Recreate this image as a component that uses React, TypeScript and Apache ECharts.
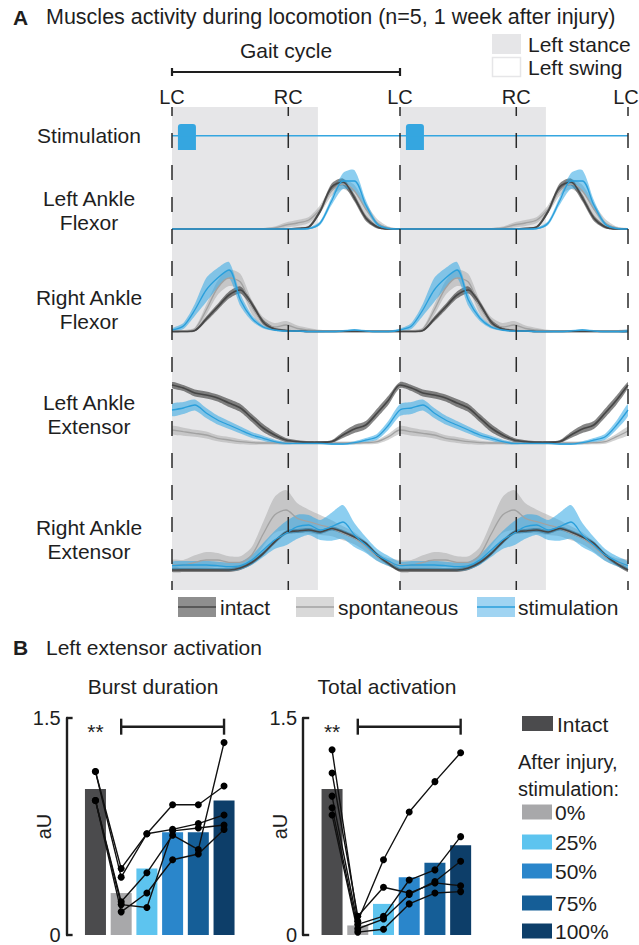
import React, { useEffect, useRef } from "react";
import * as echarts from "echarts";

const FONT = "'Liberation Sans', Arial, Helvetica, sans-serif";
const INK = "#1e1e1e";

// ---------- Panel A data (one gait cycle, % of cycle, every 5%) ----------
const PHASE = [0, 5, 10, 15, 20, 25, 30, 35, 40, 45, 50, 55, 60, 65, 70, 75, 80, 85, 90, 95, 100];

const EVENT_POS = [0, 51, 100, 151, 200];
const EVENT_LABELS = ["LC", "RC", "LC", "RC", "LC"];
const STANCE = [[0, 64], [100, 164]];
const GAIT_CYCLE = [[0, 100]];
const STIM_BURSTS = [[2.6, 10.5], [102.6, 110.5]];
const STIM_LEVEL = 0.55;

// Left Ankle Flexor
const LAF_INTACT = [2, 2, 2, 2, 2, 2, 2, 2, 2, 2, 2, 2.5, 4, 20, 44, 49, 33, 13, 4, 2, 2];
const LAF_INTACT_SD = [0.7, 0.7, 0.7, 0.7, 0.7, 0.7, 0.7, 0.7, 0.7, 0.7, 0.7, 0.9, 1.3, 2.5, 3.5, 3.5, 3.5, 3, 1.5, 0.8, 0.7];
const LAF_SPONT = [2, 2, 2, 2, 2, 2, 2, 2, 2.2, 3, 6, 8, 11, 22, 40, 47, 40, 22, 8, 3, 2];
const LAF_SPONT_SD = [0.7, 0.7, 0.7, 0.7, 0.7, 0.7, 0.7, 0.7, 0.9, 1.5, 2.5, 3, 3, 4, 5, 5, 6, 6, 4, 1.5, 0.7];
const LAF_STIM = [2, 2, 2, 2, 2, 2, 2, 2, 2, 2, 2, 2, 2.5, 8, 30, 50, 50, 26, 7, 2.5, 2];
const LAF_STIM_SD = [0.7, 0.7, 0.7, 0.7, 0.7, 0.7, 0.7, 0.7, 0.7, 0.7, 0.7, 0.7, 0.9, 2, 4, 8, 11, 5, 2, 1, 0.7];

// Right Ankle Flexor
const RAF_INTACT = [2.5, 2.5, 3.5, 15, 27, 39, 44, 30, 12, 5, 3.5, 3, 2.5, 2.5, 2.5, 2.5, 2.5, 2.5, 2.5, 2.5, 2.5];
const RAF_INTACT_SD = [0.8, 0.8, 1, 2.5, 3, 3.5, 3.5, 3, 2.5, 1.5, 1, 0.8, 0.8, 0.8, 0.8, 0.8, 0.8, 0.8, 0.8, 0.8, 0.8];
const RAF_SPONT = [3, 3, 5, 24, 46, 56, 52, 27, 12, 7, 9, 5.5, 4, 3, 3, 3, 3, 3, 3, 3, 3];
const RAF_SPONT_SD = [1, 1, 1.5, 5, 7, 8, 8, 7, 5, 4, 4, 3, 2, 1.2, 1, 1, 1, 1, 1, 1, 1];
const RAF_STIM = [4, 8, 24, 44, 56, 64, 34, 16, 7, 4, 3, 3, 2.5, 2.5, 2.5, 3, 4, 3, 2.5, 2.5, 3];
const RAF_STIM_SD = [1.5, 3, 6, 12, 10, 8, 6, 3, 1.5, 1, 1, 1, 1, 1, 1, 1, 1, 1, 1, 1, 1.5];

// Left Ankle Extensor
const LAE_INTACT = [61, 58, 53, 51, 48, 43, 38, 28, 18, 11, 6, 4.3, 3.7, 3.7, 4.3, 11, 17, 21, 33, 46, 61];
const LAE_INTACT_SD = [3, 3, 3.5, 3.5, 3.5, 4, 4, 4, 4, 3, 2, 1.5, 1.2, 1.2, 1.5, 3, 4, 4, 4.5, 4.5, 3];
const LAE_SPONT = [16, 14.3, 12.7, 11, 7.7, 6, 4.3, 3.3, 3, 3, 3, 3, 3, 3, 3, 3, 3, 3.3, 4.3, 9.3, 15];
const LAE_SPONT_SD = [4, 4, 3.5, 3.5, 3, 3, 2.5, 2, 1.5, 1.5, 1.5, 1.5, 1.5, 1.5, 1.5, 1.5, 1.5, 1.5, 2, 3, 4];
const LAE_STIM = [36, 38, 41, 33, 26, 21, 16, 11, 7.7, 4.3, 2.7, 2.7, 2.7, 2.7, 2, 2, 3.3, 6, 9.3, 21, 36];
const LAE_STIM_SD = [6, 6, 5.5, 5, 4.5, 4, 3.5, 3, 2.5, 2, 1.2, 1, 1, 1, 1, 1, 1.5, 2, 3, 4.5, 6];

// Right Ankle Extensor
const RAE_INTACT = [4, 4, 4, 4, 4, 4, 6, 11.5, 20.5, 32, 41.5, 43, 44, 42, 45.5, 42, 37, 30.5, 19, 10.5, 4];
const RAE_INTACT_SD = [2, 2, 2, 2, 2, 2, 2, 2, 2, 2, 2, 2, 2, 2, 2, 2, 2, 2, 2, 2, 2];
const RAE_SPONT = [9, 9, 11.7, 14, 14, 11.7, 11.7, 19, 40, 59, 64, 55.7, 52.3, 49, 45.7, 40.7, 35.7, 27.3, 17.3, 11.7, 9];
const RAE_SPONT_SD = [5, 5, 7, 8, 7, 6, 6, 8, 12, 18, 20, 15, 12, 10, 8, 7, 6, 5, 4, 4, 5];
const RAE_STIM = [8.3, 9, 9, 9, 8.3, 7.3, 8.3, 14, 24, 34, 40.7, 47.3, 49, 44, 47.3, 52, 39, 29, 19, 13, 8.3];
const RAE_STIM_SD = [4, 4, 4, 4, 4, 4, 4, 5, 7, 9, 12, 12, 10, 10, 14, 17, 12, 8, 6, 5, 4];

// ---------- Panel B data ----------
const CATEGORIES = ["Intact", "0%", "25%", "50%", "75%", "100%"];
const BURST_MEAN = [1.01, 0.29, 0.46, 0.71, 0.71, 0.93];
const BURST_ANIMALS = [
  [1.13, 0.46, 0.70, 0.90, 0.90, 1.03],
  [1.13, 0.40, 0.70, 0.73, 0.77, 0.83],
  [0.93, 0.23, 0.43, 0.69, 0.59, 1.33],
  [0.93, 0.21, 0.19, 0.72, 0.74, 0.76],
  [0.93, 0.16, 0.29, 0.52, 0.56, 0.73],
];
const TOTAL_MEAN = [1.01, 0.066, 0.215, 0.40, 0.50, 0.62];
const TOTAL_ANIMALS = [
  [1.28, 0.095, 0.52, 0.85, 1.06, 1.26],
  [1.12, 0.13, 0.33, 0.29, 0.36, 0.34],
  [0.96, 0.073, 0.13, 0.38, 0.45, 0.68],
  [0.88, 0.043, 0.11, 0.28, 0.37, 0.51],
  [0.83, 0.02, 0.04, 0.215, 0.29, 0.30],
];
const SIG = [[1, 1.44, 5]];
const SIG_LABEL = "**";
const Y_TICKS_MAX = 1.5;

const BAR_COLORS = ["#4b4b4d", "#a8a8aa", "#5dc4ef", "#2a86cb", "#155e97", "#0d3e69"];

// ---------- styles ----------
const COND: any = {
  spont: { band: "rgba(165,165,165,0.5)", line: "#a2a2a2", width: 1.3 },
  intact: { band: "rgba(60,60,60,0.62)", line: "#464646", width: 1.7 },
  stim: { band: "rgba(45,165,228,0.55)", line: "#2a9fdb", width: 1.3 },
};

const ROWS = [
  { grid: 2, top: 151, height: 80, spont: [LAF_SPONT, LAF_SPONT_SD], intact: [LAF_INTACT, LAF_INTACT_SD], stim: [LAF_STIM, LAF_STIM_SD] },
  { grid: 3, top: 254, height: 80, spont: [RAF_SPONT, RAF_SPONT_SD], intact: [RAF_INTACT, RAF_INTACT_SD], stim: [RAF_STIM, RAF_STIM_SD] },
  { grid: 4, top: 374, height: 72, spont: [LAE_SPONT, LAE_SPONT_SD], intact: [LAE_INTACT, LAE_INTACT_SD], stim: [LAE_STIM, LAE_STIM_SD] },
  { grid: 5, top: 479, height: 95, spont: [RAE_SPONT, RAE_SPONT_SD], intact: [RAE_INTACT, RAE_INTACT_SD], stim: [RAE_STIM, RAE_STIM_SD] },
];

// two gait cycles drawn from the same one-cycle arrays
function cycIdx() {
  const out: number[][] = [];
  for (let c = 0; c < 2; c++) {
    for (let i = 0; i < PHASE.length; i++) {
      if (c === 0 && i === PHASE.length - 1) continue;
      out.push([c * 100 + PHASE[i], i]);
    }
  }
  return out;
}
function cyc(arr: number[]) {
  return cycIdx().map(([x, i]) => [x, arr[i]]);
}
function cycBand(mean: number[], sd: number[]) {
  return cycIdx().map(([x, i]) => [x, Math.max(0, mean[i] - sd[i]), mean[i] + sd[i]]);
}

function txt(text: string, x: number, y: number, extra: any = {}) {
  const align = extra.align || "left";
  return {
    type: "text",
    x,
    y,
    silent: true,
    style: {
      text,
      fill: INK,
      fontSize: 21,
      fontFamily: FONT,
      align,
      textAlign: align,
      verticalAlign: "middle",
      textVerticalAlign: "middle",
      lineHeight: 24,
      ...extra,
    },
  };
}

function buildOption() {
  const grid: any[] = [
    { left: 172, width: 456, top: 107, height: 483 },
    { left: 172, width: 456, top: 124, height: 26 },
    ...ROWS.map((r) => ({ left: 172, width: 456, top: r.top, height: r.height })),
    { left: 82.6, width: 154.3, top: 718, height: 221 },
    { left: 319.2, width: 154.3, top: 718, height: 221 },
  ];
  const xAxis: any[] = [];
  const yAxis: any[] = [];
  const traceMax = [1, 1, ...ROWS.map((r) => r.height)];
  for (let g = 0; g < 6; g++) {
    xAxis.push({ type: "value", gridIndex: g, min: 0, max: 200, show: false });
    yAxis.push({ type: "value", gridIndex: g, min: 0, max: traceMax[g], show: false });
  }
  for (const g of [6, 7]) {
    xAxis.push({ type: "category", gridIndex: g, data: CATEGORIES, show: false });
    yAxis.push({
      type: "value",
      gridIndex: g,
      min: 0,
      max: Y_TICKS_MAX,
      interval: Y_TICKS_MAX,
      offset: 16,
      splitLine: { show: false },
      axisLine: { show: true, lineStyle: { color: INK, width: 2.4 } },
      axisTick: { show: true, inside: true, length: 6, lineStyle: { color: INK, width: 2.4 } },
      axisLabel: { fontSize: 20, color: INK, fontFamily: FONT, margin: 6 },
      name: "aU",
      nameLocation: "middle",
      nameGap: 13,
      nameMoveOverlap: false,
      nameRotate: 90,
      nameTextStyle: { fontSize: 20, color: INK, fontFamily: FONT },
    });
  }

  const series: any[] = [];

  // stance shading
  series.push({
    type: "custom",
    xAxisIndex: 0,
    yAxisIndex: 0,
    data: STANCE,
    z: 0,
    silent: true,
    renderItem: (params: any, api: any) => {
      const x0 = api.coord([api.value(0), 0])[0];
      const x1 = api.coord([api.value(1), 0])[0];
      const cs = params.coordSys;
      return { type: "rect", shape: { x: x0, y: cs.y, width: x1 - x0, height: cs.height }, style: { fill: "#e6e6e8" } };
    },
  });

  // stimulation line + bursts
  series.push({
    type: "line",
    xAxisIndex: 1,
    yAxisIndex: 1,
    data: [[0, STIM_LEVEL], [200, STIM_LEVEL]],
    symbol: "none",
    lineStyle: { color: "#35a6e0", width: 1.6 },
    z: 2,
    silent: true,
  });
  series.push({
    type: "custom",
    xAxisIndex: 1,
    yAxisIndex: 1,
    data: STIM_BURSTS,
    z: 2,
    silent: true,
    renderItem: (params: any, api: any) => {
      const a = api.coord([api.value(0), 1]);
      const b = api.coord([api.value(1), 0]);
      return {
        type: "rect",
        shape: { x: a[0], y: a[1], width: b[0] - a[0], height: b[1] - a[1], r: [3, 3, 0, 0] },
        style: { fill: "#35a6e0" },
      };
    },
  });

  // traces: bands (custom polygons) then mean lines
  const order = ["spont", "intact", "stim"];
  ROWS.forEach((r: any) => {
    order.forEach((c) => {
      const [mean, sd] = r[c];
      const color = COND[c].band;
      series.push({
        type: "custom",
        xAxisIndex: r.grid,
        yAxisIndex: r.grid,
        data: cycBand(mean, sd),
        clip: true,
        z: 2,
        silent: true,
        encode: { x: 0, y: [1, 2] },
        renderItem: (params: any, api: any) => {
          if (params.dataIndexInside !== 0) return null;
          const n = params.dataInsideLength;
          const top: number[][] = [];
          const bot: number[][] = [];
          for (let i = 0; i < n; i++) {
            const x = api.value(0, i);
            top.push(api.coord([x, api.value(2, i)]));
            bot.push(api.coord([x, api.value(1, i)]));
          }
          return {
            type: "polygon",
            shape: { points: top.concat(bot.reverse()), smooth: 0.25 },
            style: { fill: color },
          };
        },
      });
    });
    order.forEach((c) => {
      const [mean] = r[c];
      series.push({
        type: "line", xAxisIndex: r.grid, yAxisIndex: r.grid, data: cyc(mean),
        symbol: "none", smooth: 0.3, lineStyle: { width: COND[c].width, color: COND[c].line }, z: 2, silent: true,
      });
    });
  });

  // gait events (dashed lines + labels)
  series.push({
    type: "custom",
    xAxisIndex: 0,
    yAxisIndex: 0,
    data: EVENT_POS.map((p) => [p, 0]),
    z: 4,
    silent: true,
    renderItem: (params: any, api: any) => {
      const x = api.coord([api.value(0), 0])[0];
      const cs = params.coordSys;
      const label = EVENT_LABELS[params.dataIndex];
      return {
        type: "group",
        children: [
          {
            type: "line",
            shape: { x1: x, y1: cs.y, x2: x, y2: cs.y + cs.height },
            style: { stroke: "#2a2a2a", lineWidth: 1.5, lineDash: [15, 17], lineDashOffset: 6 },
          },
          {
            type: "text",
            x: Math.min(x, 626),
            y: 97,
            style: { text: label, fill: INK, fontSize: 20, fontFamily: FONT, align: "center", textAlign: "center", verticalAlign: "middle", textVerticalAlign: "middle" },
          },
        ],
      };
    },
  });

  // gait cycle bracket
  series.push({
    type: "custom",
    xAxisIndex: 0,
    yAxisIndex: 0,
    data: GAIT_CYCLE,
    z: 4,
    silent: true,
    renderItem: (params: any, api: any) => {
      const x0 = api.coord([api.value(0), 0])[0];
      const x1 = api.coord([api.value(1), 0])[0];
      const y = 72;
      const st = { stroke: INK, lineWidth: 2.2 };
      return {
        type: "group",
        children: [
          { type: "line", shape: { x1: x0, y1: y, x2: x1, y2: y }, style: st },
          { type: "line", shape: { x1: x0, y1: y - 4, x2: x0, y2: y + 4 }, style: st },
          { type: "line", shape: { x1: x1, y1: y - 4, x2: x1, y2: y + 4 }, style: st },
          {
            type: "text",
            x: (x0 + x1) / 2,
            y: 50,
            style: { text: "Gait cycle", fill: INK, fontSize: 21, fontFamily: FONT, align: "center", textAlign: "center", verticalAlign: "middle", textVerticalAlign: "middle" },
          },
        ],
      };
    },
  });

  // panel B
  const barBlock = (g: number, means: number[], animals: number[][]) => {
    series.push({
      type: "bar", xAxisIndex: g, yAxisIndex: g, barWidth: 21, z: 2, silent: true,
      data: means.map((v, i) => ({ value: v, itemStyle: { color: BAR_COLORS[i] } })),
    });
    animals.forEach((a) =>
      series.push({
        type: "line", xAxisIndex: g, yAxisIndex: g, data: a, symbol: "circle", symbolSize: 7,
        lineStyle: { color: "#111", width: 1.4 }, itemStyle: { color: "#000" }, z: 3, silent: true,
      })
    );
    series.push({
      type: "custom",
      xAxisIndex: g,
      yAxisIndex: g,
      data: SIG,
      z: 4,
      silent: true,
      renderItem: (params: any, api: any) => {
        const a = api.coord([api.value(0), api.value(1)]);
        const b = api.coord([api.value(2), api.value(1)]);
        const s = api.coord([0, api.value(1)]);
        const st = { stroke: INK, lineWidth: 2.4 };
        return {
          type: "group",
          children: [
            { type: "line", shape: { x1: a[0], y1: a[1], x2: b[0], y2: b[1] }, style: st },
            { type: "line", shape: { x1: a[0], y1: a[1] - 8, x2: a[0], y2: a[1] + 8 }, style: st },
            { type: "line", shape: { x1: b[0], y1: b[1] - 8, x2: b[0], y2: b[1] + 8 }, style: st },
            {
              type: "text",
              x: s[0],
              y: s[1] + 5,
              style: { text: SIG_LABEL, fill: INK, fontSize: 21, fontFamily: FONT, align: "center", textAlign: "center", verticalAlign: "middle", textVerticalAlign: "middle" },
            },
          ],
        };
      },
    });
  };
  barBlock(6, BURST_MEAN, BURST_ANIMALS);
  barBlock(7, TOTAL_MEAN, TOTAL_ANIMALS);

  // graphics (texts and legends)
  const graphic: any[] = [
    txt("A", 13, 17, { fontWeight: "bold" }),
    txt("Muscles activity during locomotion (n=5, 1 week after injury)", 46, 17, { fontSize: 21.5 }),
    { type: "rect", shape: { x: 492, y: 34, width: 29, height: 20 }, style: { fill: "#e6e6e8" }, silent: true },
    { type: "rect", shape: { x: 492.5, y: 57.5, width: 28, height: 19 }, style: { fill: "#fff", stroke: "#e6e6e8", lineWidth: 1.5 }, silent: true },
    txt("Left stance", 528, 44, { lineHeight: 21 }),
    txt("Left swing", 528, 67, { lineHeight: 21 }),
    txt("Stimulation", 89, 135, { align: "center" }),
    txt("Left Ankle\nFlexor", 89, 210, { align: "center" }),
    txt("Right Ankle\nFlexor", 89, 309, { align: "center" }),
    txt("Left Ankle\nExtensor", 89, 414, { align: "center" }),
    txt("Right Ankle\nExtensor", 89, 539, { align: "center" }),
    // traces legend
    { type: "rect", shape: { x: 178, y: 597, width: 38, height: 20 }, style: { fill: "#8e8e8e" }, silent: true },
    { type: "line", shape: { x1: 178, y1: 607, x2: 216, y2: 607 }, style: { stroke: "#464646", lineWidth: 1.7 }, silent: true },
    txt("intact", 220, 607),
    { type: "rect", shape: { x: 296, y: 597, width: 38, height: 20 }, style: { fill: "#d9d9d9" }, silent: true },
    { type: "line", shape: { x1: 296, y1: 607, x2: 334, y2: 607 }, style: { stroke: "#a2a2a2", lineWidth: 1.5 }, silent: true },
    txt("spontaneous", 338, 607),
    { type: "rect", shape: { x: 477, y: 597, width: 38, height: 20 }, style: { fill: "#a0d4f2" }, silent: true },
    { type: "line", shape: { x1: 477, y1: 607, x2: 515, y2: 607 }, style: { stroke: "#2a9fdb", lineWidth: 1.5 }, silent: true },
    txt("stimulation", 518, 607),
    // panel B
    txt("B", 13, 647, { fontWeight: "bold" }),
    txt("Left extensor activation", 46, 647),
    txt("Burst duration", 153, 686, { align: "center" }),
    txt("Total activation", 387, 686, { align: "center" }),
    { type: "rect", shape: { x: 522, y: 716, width: 31, height: 15 }, style: { fill: BAR_COLORS[0] }, silent: true },
    txt("Intact", 557, 724, { lineHeight: 21 }),
    txt("After injury,", 518, 762, { fontSize: 20, lineHeight: 20 }),
    txt("stimulation:", 518, 789, { fontSize: 20, lineHeight: 20 }),
  ];
  const legendY = [812, 842, 871, 903, 931];
  CATEGORIES.slice(1).forEach((c, i) => {
    graphic.push({ type: "rect", shape: { x: 522, y: legendY[i] - 7.5, width: 30, height: 15 }, style: { fill: BAR_COLORS[i + 1] }, silent: true });
    graphic.push(txt(c, 555, legendY[i], { lineHeight: 20 }));
  });

  return {
    animation: false,
    backgroundColor: "#ffffff",
    textStyle: { fontFamily: FONT },
    grid,
    xAxis,
    yAxis,
    series,
    graphic,
  };
}

export default function App() {
  const ref = useRef<HTMLDivElement>(null);
  useEffect(() => {
    document.body.style.margin = "0";
    const chart = echarts.init(ref.current as HTMLDivElement, null, { renderer: "svg" });
    chart.setOption(buildOption() as any);
    return () => chart.dispose();
  }, []);
  return <div ref={ref} style={{ width: 639, height: 945, position: "absolute", left: 0, top: 0 }} />;
}
